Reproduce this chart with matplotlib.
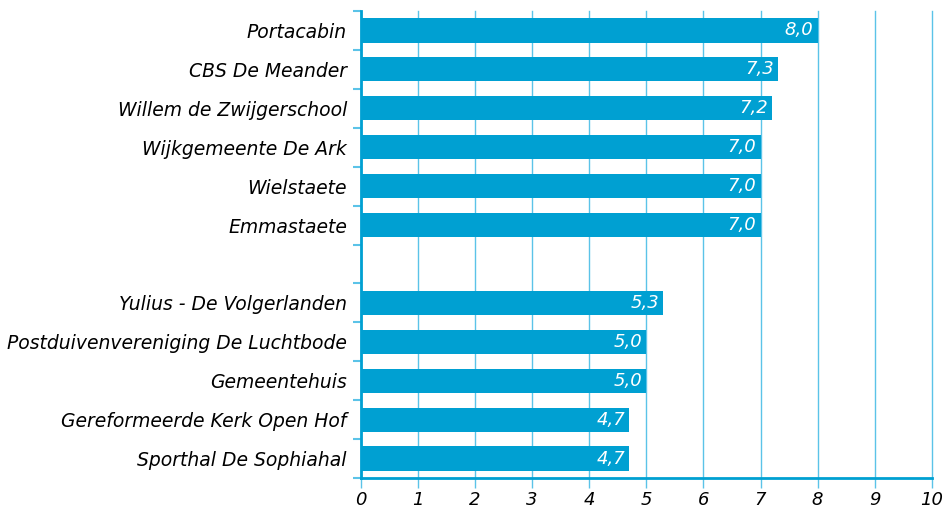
import matplotlib.pyplot as plt
import numpy as np

# Scores per location (empty string = spacer row)
locations = [
    "Portacabin", "CBS De Meander", "Willem de Zwijgerschool",
    "Wijkgemeente De Ark", "Wielstaete", "Emmastaete", "",
    "Yulius - De Volgerlanden", "Postduivenvereniging De Luchtbode",
    "Gemeentehuis", "Gereformeerde Kerk Open Hof", "Sporthal De Sophiahal",
]
scores = [8.0, 7.3, 7.2, 7.0, 7.0, 7.0, np.nan, 5.3, 5.0, 5.0, 4.7, 4.7]
x_ticks = list(range(0, 11))

BAR = "#00A0D2"
GRID = "#5BC3E8"

fig = plt.figure(figsize=(9.47, 5.14), dpi=100)
ax = fig.add_axes([0.381, 0.070, 0.603, 0.9086])

y = np.arange(len(locations))
vals = np.nan_to_num(np.array(scores), nan=0.0)
ax.barh(y, vals, height=0.62, color=BAR, zorder=2)

for yi, v in zip(y, scores):
    if np.isnan(v):
        continue
    ax.text(v - 0.07, yi, f"{v:.1f}".replace(".", ","), ha="right", va="center",
            color="white", style="italic", fontsize=13, zorder=3)

ax.set_xlim(0, 10)
ax.set_ylim(len(locations) - 0.5, -0.5)
ax.set_xticks(x_ticks)
ax.set_xticklabels([str(t) for t in x_ticks], style="italic", fontsize=13)
ax.set_yticks(y)
ax.set_yticklabels(locations, style="italic", fontsize=13.5)
ax.set_yticks(np.arange(-0.5, len(locations)), minor=True)

ax.tick_params(axis="y", which="major", length=0, pad=10)
ax.tick_params(axis="y", which="minor", length=6, width=1.5, color=GRID, direction="out")
ax.tick_params(axis="x", length=7, width=1, color=GRID, pad=2)

ax.grid(axis="x", color=GRID, linewidth=1, zorder=1)
for gl in ax.get_xgridlines():
    gl.set_clip_on(False)
ax.set_axisbelow(True)
for s in ["top", "right"]:
    ax.spines[s].set_visible(False)
for s in ["left", "bottom"]:
    ax.spines[s].set_color(BAR)
    ax.spines[s].set_linewidth(2)

fig.savefig("out.png", dpi=100)
